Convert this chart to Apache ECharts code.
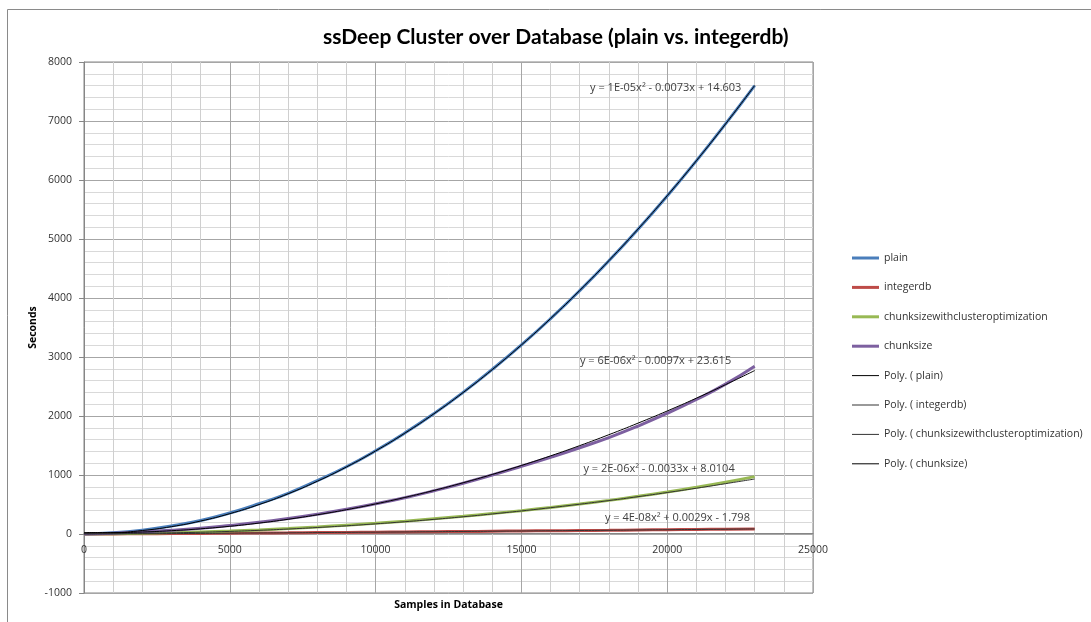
<!DOCTYPE html>
<html lang="en">

<head>
    <meta charset="UTF-8">
    <title>ssDeep Cluster over Database</title>
    <script src="https://cdn.jsdelivr.net/npm/echarts@6/dist/echarts.min.js"></script>
    <style>
        html, body { margin: 0; padding: 0; background: #fff; }
        #main { width: 1091px; height: 622px; }
    </style>
</head>

<body>
    <div id="main"></div>
    <script>
        // samples in database
        var samples = [0, 1000, 2000, 3000, 4000, 5000, 6000, 7000, 8000, 9000, 10000, 11000,
            12000, 13000, 14000, 15000, 16000, 17000, 18000, 19000, 20000, 21000, 22000, 23000];

        // measured seconds
        var plain = [0, 20, 65, 135, 228, 355, 512, 690, 905, 1140, 1410, 1710,
            2040, 2400, 2790, 3205, 3650, 4125, 4630, 5165, 5730, 6325, 6950, 7600];
        var integerdb = [0, 1, 4, 7, 10, 14, 17, 20, 24, 27, 31, 35,
            39, 42, 47, 51, 55, 59, 63, 68, 72, 77, 81, 86];
        var clusterOpt = [0, 6, 14, 24, 36, 50, 68, 92, 120, 150, 182, 218,
            258, 300, 347, 396, 450, 508, 570, 638, 712, 792, 878, 972];
        var chunksize = [2, 14, 36, 62, 98, 145, 198, 262, 335, 418, 512, 615,
            732, 860, 1000, 1148, 1300, 1462, 1635, 1830, 2045, 2280, 2540, 2845];

        // polynomial trend lines as drawn
        var plainTrend = [15, 22, 59, 125, 220, 345, 499, 682, 894, 1136, 1408, 1708,
            2038, 2397, 2786, 3204, 3651, 4127, 4633, 5168, 5733, 6326, 6949, 7602];
        var integerdbTrend = [-2, 1, 4, 7, 10, 14, 17, 20, 24, 28, 31, 35,
            39, 43, 47, 51, 55, 59, 63, 68, 72, 77, 81, 86];
        var clusterOptTrend = [8, 9, 13, 20, 30, 44, 62, 84, 110, 139, 172, 208,
            248, 292, 340, 391, 446, 505, 567, 633, 703, 776, 853, 932];
        var chunksizeTrend = [24, 24, 34, 56, 88, 131, 185, 250, 326, 412, 510, 619,
            738, 868, 1009, 1161, 1324, 1498, 1683, 1879, 2085, 2302, 2531, 2770];

        // trend line equations and where they sit (data coords)
        var eqText = ['y = 1E-05x² - 0.0073x + 14.603', 'y = 4E-08x² + 0.0029x - 1.798',
            'y = 2E-06x² - 0.0033x + 8.0104', 'y = 6E-06x² - 0.0097x + 23.615'];
        var eqX = [19950, 20350, 19720, 19600];
        var eqY = [7555, 272, 1104, 2937];

        var names = ['plain', 'integerdb', 'chunksizewithclusteroptimization', 'chunksize'];
        var colors = ['#4a7ebb', '#be4b48', '#98b954', '#7d60a0'];
        var trendColors = ['#000', '#333', '#333', '#000'];
        var dataSets = [plain, integerdb, clusterOpt, chunksize];
        var trendSets = [plainTrend, integerdbTrend, clusterOptTrend, chunksizeTrend];

        // legend icons: a thick or thin horizontal stroke
        var thickIcon = 'path://M0,0M0,5.5L27,5.5L27,8.5L0,8.5ZM27,14';
        var thinIcon = 'path://M0,0M0,6.5L27,6.5L27,7.5L0,7.5ZM27,14';

        function pairs(ys) {
            return samples.map(function (x, i) { return [x, ys[i]]; });
        }

        var series = [];
        var legendData = [];
        names.forEach(function (n, i) {
            series.push({
                name: n,
                type: 'line',
                data: pairs(dataSets[i]),
                symbol: 'none',
                smooth: true,
                lineStyle: { width: 3, color: colors[i] },
                itemStyle: { color: colors[i] },
                z: 2
            });
            legendData.push({ name: n, icon: thickIcon });
        });
        names.forEach(function (n, i) {
            var name = 'Poly. ( ' + n + ')';
            series.push({
                name: name,
                type: 'line',
                data: pairs(trendSets[i]),
                symbol: 'none',
                smooth: true,
                lineStyle: { width: 1, color: trendColors[i] },
                itemStyle: { color: trendColors[i] },
                z: 3,
                markPoint: {
                    symbol: 'rect',
                    symbolSize: 1,
                    itemStyle: { color: 'rgba(0,0,0,0)' },
                    silent: true,
                    data: [{
                        coord: [eqX[i], eqY[i]],
                        label: {
                            show: true,
                            position: 'inside',
                            formatter: eqText[i],
                            color: '#404040',
                            fontFamily: 'Open Sans',
                            fontSize: 11
                        }
                    }]
                }
            });
            legendData.push({ name: name, icon: thinIcon });
        });

        var myChart = echarts.init(document.getElementById('main'));
        var option = {
            animation: false,
            backgroundColor: '#fff',
            title: {
                text: 'ssDeep Cluster over Database (plain vs. integerdb)',
                left: 318,
                top: 22,
                textStyle: {
                    fontFamily: 'Lato',
                    fontWeight: 'bold',
                    fontSize: 21,
                    color: '#000'
                }
            },
            graphic: [{
                type: 'polyline',
                shape: { points: [[7.5, 622], [7.5, 9.5], [1091, 9.5]] },
                style: { stroke: '#8a8a8a', lineWidth: 1, fill: null }
            }],
            legend: {
                orient: 'vertical',
                left: 847,
                top: 246,
                itemWidth: 27,
                itemHeight: 14,
                itemGap: 15.4,
                textStyle: {
                    fontFamily: 'Open Sans',
                    fontSize: 10.5,
                    color: '#333'
                },
                data: legendData
            },
            grid: {
                left: 84,
                right: 278,
                top: 62,
                bottom: 29,
                containLabel: false,
                outerBoundsMode: 'none',
                show: true,
                borderColor: '#868686',
                borderWidth: 1
            },
            xAxis: {
                type: 'value',
                min: 0,
                max: 25000,
                interval: 5000,
                position: 'bottom',
                offset: -60,
                name: 'Samples in Database',
                nameLocation: 'middle',
                nameGap: 67,
                nameMoveOverlap: false,
                nameTextStyle: {
                    fontFamily: 'Open Sans',
                    fontWeight: 'bold',
                    fontSize: 10.5,
                    color: '#000'
                },
                axisLine: { onZero: false, lineStyle: { color: '#868686' } },
                axisTick: { show: false },
                axisLabel: {
                    margin: 12,
                    fontFamily: 'Open Sans',
                    fontSize: 10.5,
                    color: '#333',
                    formatter: function (v) { return String(v); }
                },
                splitLine: { lineStyle: { color: '#a6a6a6' } },
                minorTick: { show: false, splitNumber: 5 },
                minorSplitLine: { show: true, lineStyle: { color: '#cfcfcf' } }
            },
            yAxis: {
                type: 'value',
                min: -1000,
                max: 8000,
                interval: 1000,
                name: 'Seconds',
                nameLocation: 'middle',
                nameGap: 45,
                nameMoveOverlap: false,
                nameRotate: 90,
                nameTextStyle: {
                    fontFamily: 'Open Sans',
                    fontWeight: 'bold',
                    fontSize: 10.5,
                    color: '#000'
                },
                axisLine: { show: true, onZero: false, lineStyle: { color: '#868686' } },
                axisTick: { show: true, length: 5, lineStyle: { color: '#868686' } },
                axisLabel: {
                    margin: 12,
                    fontFamily: 'Open Sans',
                    fontSize: 10.5,
                    color: '#333',
                    formatter: function (v) { return String(v); }
                },
                splitLine: { lineStyle: { color: '#a6a6a6' } },
                minorTick: { show: false, splitNumber: 5 },
                minorSplitLine: { show: true, lineStyle: { color: '#d9d9d9' } }
            },
            series: series
        };
        myChart.setOption(option);
    </script>
</body>

</html>
